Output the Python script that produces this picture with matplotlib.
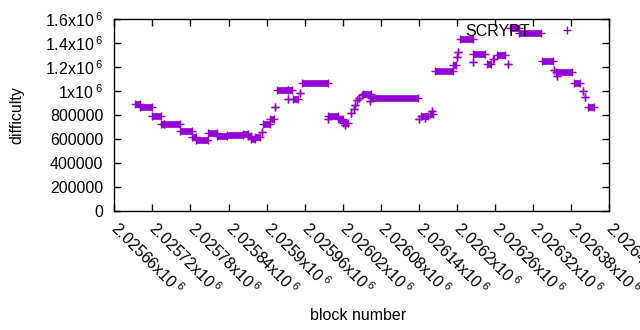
import numpy as np
import matplotlib
matplotlib.use("Agg")
import matplotlib.pyplot as plt
from matplotlib.lines import Line2D

plt.rcParams['font.family'] = ['Liberation Sans', 'DejaVu Sans']
plt.rcParams['mathtext.fontset'] = 'custom'
plt.rcParams['mathtext.rm'] = 'Liberation Sans'
plt.rcParams['mathtext.default'] = 'regular'

BASE_BLOCK = 2025660
# runs of constant difficulty: start offset, end offset (blocks from BASE_BLOCK), difficulty
run_start = [33, 41, 60, 74, 79, 104, 122, 129, 148, 162, 178, 203, 211, 216, 222, 233,
             235, 246, 254, 257, 273, 274, 282, 293, 296, 336, 337, 352, 361, 364, 373,
             377, 380, 382, 385, 390, 392, 403, 405, 480, 483, 490, 498, 500, 506, 533,
             540, 541, 544, 566, 566, 588, 596, 603, 620, 624, 637, 674, 693, 696, 698,
             724, 738, 742, 746]
run_end = [41, 60, 74, 79, 104, 122, 128, 148, 162, 178, 203, 211, 216, 222, 230, 233,
           246, 252, 254, 273, 273, 280, 290, 293, 337, 336, 352, 361, 369, 364, 373,
           377, 380, 382, 385, 390, 405, 403, 478, 480, 495, 490, 502, 500, 533, 539,
           540, 541, 566, 566, 584, 593, 599, 615, 620, 637, 672, 691, 693, 721, 698,
           734, 738, 742, 756]
run_value = [890000, 864000, 797000, 730000, 722000, 664000, 614000, 589000, 647000,
             622000, 631000, 641000, 625000, 597000, 614000, 658000, 722000, 767000,
             867000, 1008000, 936000, 1014000, 936000, 981000, 1072000, 764000, 789000,
             764000, 736000, 717000, 822000, 850000, 883000, 925000, 944000, 967000,
             978000, 917000, 939000, 767000, 794000, 775000, 806000, 833000, 1169000,
             1217000, 1286000, 1330000, 1439000, 1244000, 1308000, 1230000, 1270000,
             1300000, 1225000, 1525000, 1486000, 1256000, 1181000, 1158000, 1125000,
             1072000, 1003000, 953000, 872000]

x_ticks = [2025660 + 60 * i for i in range(14)]
x_tick_labels = ["2.02566", "2.02572", "2.02578", "2.02584", "2.0259", "2.02596",
                 "2.02602", "2.02608", "2.02614", "2.0262", "2.02626", "2.02632",
                 "2.02638", "2.02644"]
y_ticks = [0, 200000, 400000, 600000, 800000, 1000000, 1200000, 1400000, 1600000]
y_tick_labels = ["0", "200000", "400000", "600000", "800000", "1x10$^{\\:6}$",
                 "1.2x10$^{\\:6}$", "1.4x10$^{\\:6}$", "1.6x10$^{\\:6}$"]

color = '#9400D3'
FS = 11.5
fig = plt.figure(figsize=(6.4, 3.3), dpi=100)
ax = fig.add_axes([114.3 / 640, 1 - 211 / 330, (609.3 - 114.3) / 640, (211 - 19.3) / 330])

xs = np.array(run_start) + BASE_BLOCK
xe = np.array(run_end) + BASE_BLOCK
vals = np.array(run_value)
mask = xe > xs
ax.hlines(vals[mask], xs[mask], xe[mask], colors=color, linewidth=4.8, capstyle='butt')
ax.plot(xs, vals, linestyle='none', marker='+', color=color, ms=6, mew=1.0)
ax.plot(xe, vals, linestyle='none', marker='+', color=color, ms=6, mew=1.0)

ax.set_xlim(2025660, 2026440)
ax.set_ylim(0, 1600000)
ax.set_xticks(x_ticks)
ax.set_xticklabels([l + "x10$^{\\:6}$" for l in x_tick_labels], rotation=-45,
                   ha='left', va='center', rotation_mode='anchor', fontsize=FS)
ax.set_yticks(y_ticks)
ax.set_yticklabels(y_tick_labels, fontsize=FS)
ax.tick_params(direction='in', top=True, right=True, length=5, width=1, pad=8)
ax.tick_params(axis='x', pad=10)
for s in ax.spines.values():
    s.set_linewidth(1)

ax.set_xlabel('block number', fontsize=FS)
ax.set_ylabel('difficulty', fontsize=FS)
ax.xaxis.set_label_coords((358 - 114.3) / 495, -(315 - 211) / 191.7)
ax.yaxis.set_label_coords((17 - 114.3) / 495, 0.5)
ax.xaxis.label.set_va('center')
ax.yaxis.label.set_va('center')

handle = Line2D([], [], linestyle='none', marker='+', color=color, ms=6, mew=1.0)
ax.legend([handle], ['SCRYPT'], loc='upper right', bbox_to_anchor=(0.975, 1.05),
          frameon=False, markerfirst=False, fontsize=FS, handletextpad=1.3)

fig.savefig('out.png', dpi=100)
